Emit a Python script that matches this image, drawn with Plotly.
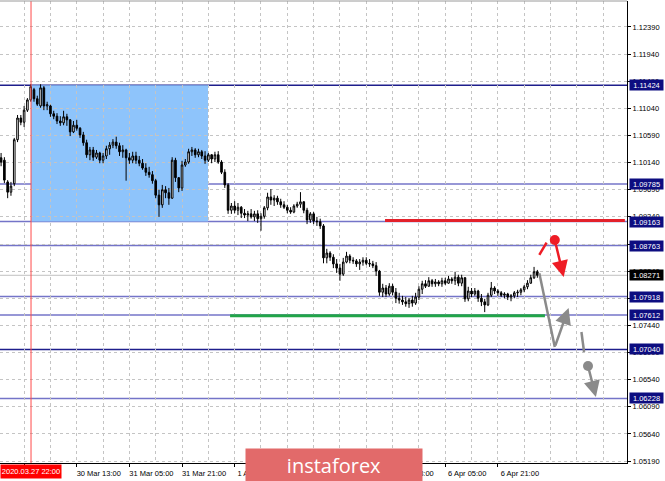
import plotly.graph_objects as go

# ---------------- data (EURUSD H1) ----------------
bar_index = list(range(-7, 157))

open_ = [
    1.1022, 1.1018, 1.0982, 1.0965, 1.0979, 1.1052, 1.1088,
    1.1081, 1.1101, 1.1118, 1.1135, 1.1120, 1.1108, 1.1138, 1.1108, 1.1108, 1.1095,
    1.1091, 1.1083, 1.1080, 1.1090, 1.1085, 1.1065, 1.1076, 1.1071, 1.1060, 1.1047,
    1.1027, 1.1035, 1.1023, 1.1030, 1.1018, 1.1025, 1.1037, 1.1043, 1.1048, 1.1042,
    1.1032, 1.1035, 1.1022, 1.1018, 1.1025, 1.1018, 1.1013, 1.1005, 1.0998, 1.0994,
    1.0984, 1.0960, 1.0944, 1.0969, 1.0964, 1.0955, 1.1018, 1.0989, 1.0972, 1.1010,
    1.1015, 1.1032, 1.1035, 1.1027, 1.1032, 1.1025, 1.1018, 1.1027, 1.1020, 1.1027,
    1.1015, 1.0998, 1.0977, 1.0935, 1.0942, 1.0935, 1.0940, 1.0930, 1.0927, 1.0929,
    1.0924, 1.0929, 1.0921, 1.0925, 1.0939, 1.0957, 1.0952, 1.0955, 1.0949, 1.0944,
    1.0940, 1.0935, 1.0932, 1.0942, 1.0945, 1.0949, 1.0935, 1.0919, 1.0929, 1.0917,
    1.0916, 1.0909, 1.0856, 1.0864, 1.0857, 1.0846, 1.0839, 1.0829, 1.0849, 1.0859,
    1.0852, 1.0851, 1.0846, 1.0849, 1.0852, 1.0847, 1.0846, 1.0843, 1.0834, 1.0799,
    1.0806, 1.0796, 1.0809, 1.0799, 1.0789, 1.0786, 1.0783, 1.0780, 1.0786, 1.0781,
    1.0791, 1.0804, 1.0813, 1.0809, 1.0818, 1.0813, 1.0816, 1.0813, 1.0818, 1.0814,
    1.0821, 1.0818, 1.0824, 1.0814, 1.0823, 1.0788, 1.0801, 1.0796, 1.0801, 1.0789,
    1.0783, 1.0778, 1.0794, 1.0806, 1.0801, 1.0798, 1.0794, 1.0796, 1.0791, 1.0793,
    1.0798, 1.0799, 1.0803, 1.0808, 1.0814, 1.0823, 1.0833,
]
high = [
    1.1030, 1.1023, 1.0985, 1.0982, 1.1055, 1.1093, 1.1093,
    1.1108, 1.1121, 1.1144, 1.1138, 1.1125, 1.1144, 1.1141, 1.1115, 1.1110, 1.1100,
    1.1096, 1.1091, 1.1100, 1.1095, 1.1086, 1.1083, 1.1085, 1.1073, 1.1065, 1.1052,
    1.1040, 1.1040, 1.1035, 1.1032, 1.1030, 1.1042, 1.1048, 1.1053, 1.1057, 1.1047,
    1.1043, 1.1037, 1.1030, 1.1032, 1.1032, 1.1025, 1.1020, 1.1013, 1.1007, 1.1000,
    1.0987, 1.0969, 1.0977, 1.0975, 1.0972, 1.1023, 1.1022, 1.0990, 1.1017, 1.1020,
    1.1037, 1.1040, 1.1038, 1.1037, 1.1035, 1.1033, 1.1030, 1.1028, 1.1032, 1.1033,
    1.1018, 1.1003, 1.0980, 1.0947, 1.0950, 1.0947, 1.0942, 1.0937, 1.0934, 1.0937,
    1.0934, 1.0935, 1.0930, 1.0942, 1.0964, 1.0970, 1.0960, 1.0959, 1.0954, 1.0950,
    1.0944, 1.0940, 1.0945, 1.0949, 1.0965, 1.0950, 1.0939, 1.0932, 1.0932, 1.0924,
    1.0921, 1.0912, 1.0871, 1.0867, 1.0862, 1.0854, 1.0846, 1.0856, 1.0866, 1.0862,
    1.0857, 1.0854, 1.0854, 1.0857, 1.0857, 1.0854, 1.0851, 1.0849, 1.0836, 1.0813,
    1.0811, 1.0814, 1.0813, 1.0806, 1.0798, 1.0793, 1.0791, 1.0789, 1.0793, 1.0798,
    1.0809, 1.0818, 1.0819, 1.0824, 1.0821, 1.0821, 1.0819, 1.0823, 1.0823, 1.0826,
    1.0824, 1.0833, 1.0828, 1.0828, 1.0824, 1.0808, 1.0806, 1.0806, 1.0803, 1.0796,
    1.0788, 1.0798, 1.0816, 1.0809, 1.0804, 1.0801, 1.0799, 1.0798, 1.0796, 1.0801,
    1.0803, 1.0806, 1.0811, 1.0819, 1.0828, 1.0841, 1.0836,
]
low = [
    1.1008, 1.0980, 1.0955, 1.0959, 1.0975, 1.1048, 1.1076,
    1.1073, 1.1098, 1.1115, 1.1115, 1.1108, 1.1105, 1.1101, 1.1101, 1.1090, 1.1086,
    1.1078, 1.1075, 1.1076, 1.1075, 1.1058, 1.1063, 1.1067, 1.1055, 1.1042, 1.1022,
    1.1018, 1.1017, 1.1020, 1.1013, 1.1013, 1.1020, 1.1027, 1.1038, 1.1037, 1.1025,
    1.1022, 1.0984, 1.1012, 1.1013, 1.1012, 1.1008, 1.1002, 1.0992, 1.0989, 1.0979,
    1.0955, 1.0924, 1.0939, 1.0955, 1.0944, 1.0954, 1.0982, 1.0965, 1.0967, 1.1007,
    1.1012, 1.1025, 1.1022, 1.1023, 1.1020, 1.1012, 1.1015, 1.1013, 1.1015, 1.1012,
    1.0995, 1.0972, 1.0929, 1.0929, 1.0930, 1.0927, 1.0922, 1.0922, 1.0917, 1.0921,
    1.0917, 1.0914, 1.0901, 1.0921, 1.0935, 1.0944, 1.0942, 1.0944, 1.0939, 1.0937,
    1.0930, 1.0929, 1.0930, 1.0939, 1.0939, 1.0930, 1.0912, 1.0914, 1.0912, 1.0909,
    1.0904, 1.0847, 1.0847, 1.0851, 1.0839, 1.0831, 1.0818, 1.0826, 1.0847, 1.0847,
    1.0846, 1.0841, 1.0836, 1.0843, 1.0844, 1.0841, 1.0839, 1.0826, 1.0793, 1.0791,
    1.0791, 1.0793, 1.0794, 1.0781, 1.0780, 1.0778, 1.0775, 1.0773, 1.0775, 1.0778,
    1.0786, 1.0796, 1.0806, 1.0808, 1.0808, 1.0808, 1.0809, 1.0808, 1.0811, 1.0813,
    1.0813, 1.0811, 1.0809, 1.0809, 1.0783, 1.0784, 1.0791, 1.0793, 1.0783, 1.0776,
    1.0766, 1.0776, 1.0791, 1.0796, 1.0793, 1.0791, 1.0789, 1.0786, 1.0784, 1.0789,
    1.0791, 1.0794, 1.0799, 1.0804, 1.0813, 1.0821, 1.0823,
]
close = [
    1.1015, 1.0985, 1.0965, 1.0975, 1.1052, 1.1088, 1.1081,
    1.1101, 1.1118, 1.1140, 1.1120, 1.1111, 1.1138, 1.1108, 1.1110, 1.1095, 1.1091,
    1.1083, 1.1080, 1.1090, 1.1085, 1.1065, 1.1076, 1.1071, 1.1060, 1.1047, 1.1027,
    1.1035, 1.1023, 1.1030, 1.1018, 1.1025, 1.1037, 1.1043, 1.1048, 1.1042, 1.1032,
    1.1035, 1.1022, 1.1018, 1.1025, 1.1018, 1.1013, 1.1005, 1.0998, 1.0994, 1.0984,
    1.0960, 1.0944, 1.0969, 1.0964, 1.0955, 1.1018, 1.0989, 1.0972, 1.1010, 1.1015,
    1.1032, 1.1035, 1.1027, 1.1032, 1.1025, 1.1018, 1.1027, 1.1020, 1.1027, 1.1015,
    1.0998, 1.0977, 1.0935, 1.0942, 1.0935, 1.0940, 1.0930, 1.0927, 1.0929, 1.0924,
    1.0929, 1.0921, 1.0925, 1.0939, 1.0957, 1.0952, 1.0955, 1.0949, 1.0944, 1.0940,
    1.0935, 1.0932, 1.0942, 1.0945, 1.0949, 1.0935, 1.0919, 1.0929, 1.0917, 1.0916,
    1.0909, 1.0856, 1.0864, 1.0857, 1.0846, 1.0839, 1.0829, 1.0849, 1.0859, 1.0852,
    1.0851, 1.0846, 1.0849, 1.0852, 1.0847, 1.0846, 1.0843, 1.0834, 1.0799, 1.0806,
    1.0796, 1.0809, 1.0799, 1.0789, 1.0786, 1.0783, 1.0780, 1.0786, 1.0781, 1.0791,
    1.0804, 1.0813, 1.0809, 1.0818, 1.0813, 1.0816, 1.0813, 1.0818, 1.0814, 1.0821,
    1.0818, 1.0824, 1.0814, 1.0823, 1.0788, 1.0801, 1.0796, 1.0801, 1.0789, 1.0783,
    1.0778, 1.0794, 1.0806, 1.0801, 1.0798, 1.0794, 1.0796, 1.0791, 1.0793, 1.0798,
    1.0799, 1.0803, 1.0808, 1.0814, 1.0823, 1.0833, 1.08271,
]

price_ticks = [1.12390, 1.11940, 1.11490, 1.11040, 1.10590, 1.10140, 1.09690,
               1.09240, 1.08790, 1.08340, 1.07890, 1.07440, 1.06990, 1.06540,
               1.06090, 1.05640, 1.05190]
time_tick_bars = [0, 16, 32, 48, 64, 80, 96, 112, 128, 144]
time_tick_labels = ["", "30 Mar 13:00", "31 Mar 05:00", "31 Mar 21:00", "1 Apr 13:00",
                    "2 Apr 05:00", "2 Apr 21:00", "3 Apr 13:00", "6 Apr 05:00", "6 Apr 21:00"]

level_prices = [1.11424, 1.09785, 1.09163, 1.08763, 1.07918, 1.07612, 1.07040, 1.06228]
level_strong = [True, False, False, False, False, False, True, False]
current_price = 1.08271

cursor_bar = 2.1
cursor_label = "2020.03.27 22:00"
zone_bars = [2.1, 55.9]
zone_prices = [1.09163, 1.11424]

support_bars = [62.6, 158.3]
support_price = 1.0760
resist_bars = [109.7, 182.6]
resist_price = 1.0918

red_path_bars = [156.6, 158.8]
red_path_prices = [1.08608, 1.08812]
red_dot = [161.3, 1.08856]
red_arrow_end = [164.0, 1.08243]

gray_path_bars = [156.6, 161.3]
gray_path_prices = [1.08304, 1.07081]
gray_arrow_end = [165.5, 1.07728]
gray_seg_bars = [169.4, 170.2]
gray_seg_prices = [1.07330, 1.06998]
gray_dot = [171.4, 1.06766]
gray_arrow2_end = [173.8, 1.06252]

# ---------------- figure ----------------
FONT = "Liberation Sans"
GRID = "#c4c4c4"
RED = "#ee1c25"
GRAY = "#8a8a8a"

fig = go.Figure()

fig.add_trace(go.Candlestick(
    x=bar_index, open=open_, high=high, low=low, close=close,
    increasing=dict(line=dict(color="#000000", width=1), fillcolor="#ffffff"),
    decreasing=dict(line=dict(color="#000000", width=1), fillcolor="#000000"),
    whiskerwidth=0, showlegend=False, hoverinfo="skip",
))

fig.add_trace(go.Scatter(x=red_path_bars, y=red_path_prices, mode="lines",
                         line=dict(color=RED, width=2.5), showlegend=False, hoverinfo="skip"))
fig.add_trace(go.Scatter(x=[red_dot[0]], y=[red_dot[1]], mode="markers",
                         marker=dict(color=RED, size=10), showlegend=False, hoverinfo="skip"))
fig.add_trace(go.Scatter(x=gray_path_bars, y=gray_path_prices, mode="lines",
                         line=dict(color=GRAY, width=2.5), showlegend=False, hoverinfo="skip"))
fig.add_trace(go.Scatter(x=gray_seg_bars, y=gray_seg_prices, mode="lines",
                         line=dict(color=GRAY, width=2.5), showlegend=False, hoverinfo="skip"))
fig.add_trace(go.Scatter(x=[gray_dot[0]], y=[gray_dot[1]], mode="markers",
                         marker=dict(color=GRAY, size=10), showlegend=False, hoverinfo="skip"))

shapes = []
# blue zone
shapes.append(dict(type="rect", xref="x", yref="y", x0=zone_bars[0], x1=zone_bars[1],
                   y0=zone_prices[0], y1=zone_prices[1], fillcolor="#8ec4fb",
                   line=dict(width=0), layer="below"))
# level lines
for p, strong in zip(level_prices, level_strong):
    shapes.append(dict(type="line", xref="paper", yref="y", x0=0, x1=1, y0=p, y1=p,
                       line=dict(color="#1e1e8c" if strong else "#7474c8", width=1.5),
                       layer="between"))
# current price line
shapes.append(dict(type="line", xref="paper", yref="y", x0=0, x1=1, y0=current_price,
                   y1=current_price, line=dict(color="#c0c0c0", width=1), layer="between"))
# support / resistance segments
shapes.append(dict(type="line", xref="x", yref="y", x0=support_bars[0], x1=support_bars[1],
                   y0=support_price, y1=support_price, line=dict(color="#21a548", width=3)))
shapes.append(dict(type="line", xref="x", yref="y", x0=resist_bars[0], x1=resist_bars[1],
                   y0=resist_price, y1=resist_price, line=dict(color="#e3212b", width=3)))
# cursor line
shapes.append(dict(type="line", xref="x", yref="paper", x0=cursor_bar, x1=cursor_bar,
                   y0=0, y1=1, line=dict(color="#ff4a4a", width=1)))
# top border
shapes.append(dict(type="line", xref="paper", yref="paper", x0=0, x1=1, y0=1, y1=1,
                   line=dict(color="#9a9a9a", width=1)))

annotations = []
for p in level_prices:
    annotations.append(dict(xref="paper", x=1, xanchor="left", xshift=2, yref="y", y=p,
                            yanchor="middle", text=f"{p:.5f}", showarrow=False,
                            bgcolor="#0d0d80", font=dict(color="#ffffff", size=7.5, family=FONT),
                            width=33, height=10, borderpad=0))
annotations.append(dict(xref="paper", x=1, xanchor="left", xshift=2, yref="y", y=current_price,
                        yanchor="middle", text=f"{current_price:.5f}", showarrow=False,
                        bgcolor="#000000", font=dict(color="#ffffff", size=7.5, family=FONT),
                        width=33, height=10, borderpad=0))
annotations.append(dict(xref="paper", x=0, xanchor="left", yref="paper", y=0, yanchor="top",
                        yshift=-1, text=cursor_label, showarrow=False, bgcolor="#ff0000",
                        font=dict(color="#ffffff", size=7.5, family=FONT),
                        width=60, height=13, borderpad=0))
# arrows
for (tx, ty), (sx, sy), col in [
    (red_arrow_end, red_dot, RED),
    (gray_arrow_end, [gray_path_bars[1], gray_path_prices[1]], GRAY),
    (gray_arrow2_end, gray_dot, GRAY),
]:
    annotations.append(dict(xref="x", yref="y", axref="x", ayref="y", x=tx, y=ty, ax=sx, ay=sy,
                            text="", showarrow=True, arrowhead=2, arrowsize=1.3,
                            arrowwidth=2.5, arrowcolor=col, standoff=0))
# watermark banner
annotations.append(dict(xref="paper", x=245 / 627, xanchor="left", yref="paper",
                        y=15 / 462, yanchor="top", text="instaforex", showarrow=False,
                        bgcolor="#e26a6a", font=dict(color="#ffffff", size=20, family="Open Sans"),
                        width=176, height=33, borderpad=0))

fig.update_layout(
    width=665, height=481,
    margin=dict(l=0, r=38, t=1, b=18),
    plot_bgcolor="#ffffff", paper_bgcolor="#ffffff",
    showlegend=False,
    shapes=shapes, annotations=annotations,
    font=dict(family=FONT, size=7.5, color="#000000"),
    xaxis=dict(
        range=[-7.33, 183.25], rangeslider=dict(visible=False),
        tickmode="array", tickvals=time_tick_bars, ticktext=time_tick_labels,
        ticks="outside", ticklen=3, tickcolor="#000000",
        tickfont=dict(size=7.5, family=FONT, color="#000000"), ticklabelshift=22,
        showgrid=True, gridcolor=GRID, griddash="3px,3px", gridwidth=1,
        minor=dict(tick0=0, dtick=8, showgrid=True, gridcolor=GRID, griddash="3px,3px",
                   gridwidth=1, ticks=""),
        showline=True, linecolor="#000000", linewidth=1, zeroline=False,
    ),
    yaxis=dict(
        side="right", range=[1.05157, 1.12821],
        tickmode="array", tickvals=price_ticks, tickformat=".5f",
        ticks="outside", ticklen=3, tickcolor="#000000",
        tickfont=dict(size=7.5, family=FONT, color="#000000"),
        showgrid=True, gridcolor=GRID, griddash="3px,3px", gridwidth=1,
        showline=True, linecolor="#000000", linewidth=1, zeroline=False,
    ),
)

fig.write_html("out.html", config={"displayModeBar": False},
               post_script="document.body.style.margin='0';")
